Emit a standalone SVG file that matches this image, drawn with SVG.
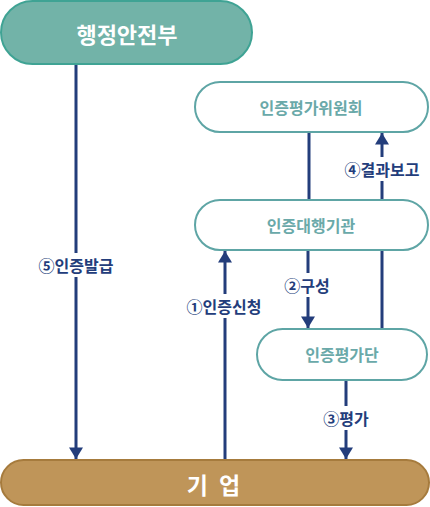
<svg xmlns="http://www.w3.org/2000/svg" width="430" height="507" viewBox="0 0 430 507">
<style>
.node{fill:#fff;stroke:#5ea5a5;stroke-width:2}
.nt{font-family:"Noto Sans CJK KR","Noto Sans",sans-serif;font-weight:bold;font-size:16px;fill:#6aa9a9;text-anchor:middle;dominant-baseline:central}
.ln{stroke:#233d7b;stroke-width:3;fill:none}
.lbl{font-family:"Noto Sans CJK KR","Noto Sans",sans-serif;font-weight:bold;font-size:16px;fill:#233d7b;text-anchor:middle;dominant-baseline:central}
.bg{fill:#fff}
</style>
<defs>
<marker id="ah" markerWidth="17" markerHeight="14" refX="14" refY="8.5" orient="auto" markerUnits="userSpaceOnUse" viewBox="0 0 14 17">
<path d="M0,0 L14,8.5 L0,17 Z" fill="#233d7b"/>
</marker>
</defs>
<g id="connectors">
<line class="ln" x1="76" y1="64" x2="76" y2="459" marker-end="url(#ah)"/>
<line class="ln" x1="225" y1="460" x2="225" y2="251" marker-end="url(#ah)"/>
<line class="ln" x1="308" y1="250" x2="308" y2="328" marker-end="url(#ah)"/>
<line class="ln" x1="382" y1="250" x2="382" y2="329"/>
<line class="ln" x1="346" y1="380" x2="346" y2="459" marker-end="url(#ah)"/>
<line class="ln" x1="309" y1="132" x2="309" y2="200"/>
<line class="ln" x1="382" y1="200" x2="382" y2="133" marker-end="url(#ah)"/>
<rect class="bg" x="32" y="253" width="88" height="24"/>
<text class="lbl" x="76" y="265">⑤인증발급</text>
<rect class="bg" x="180" y="294" width="88" height="24"/>
<text class="lbl" x="224" y="306">①인증신청</text>
<rect class="bg" x="280" y="273" width="56" height="24"/>
<text class="lbl" x="307" y="285">②구성</text>
<rect class="bg" x="318" y="406" width="56" height="24"/>
<text class="lbl" x="346" y="418">③평가</text>
<rect class="bg" x="338" y="157" width="88" height="24"/>
<text class="lbl" x="382" y="169">④결과보고</text>
</g>
<g id="n-mois">
<rect x="1" y="1" width="251" height="63" rx="31.5" fill="#72b3a8" stroke="#3fa394" stroke-width="2"/>
<text x="127" y="33" font-family="'Noto Sans CJK KR','Noto Sans',sans-serif" font-weight="bold" font-size="22" fill="#fff" text-anchor="middle" dominant-baseline="central">행정안전부</text>
</g>
<g id="n-committee">
<rect class="node" x="195" y="82" width="233" height="50" rx="25"/>
<text class="nt" x="311" y="107">인증평가위원회</text>
</g>
<g id="n-agency">
<rect class="node" x="195" y="200" width="233" height="50" rx="25"/>
<text class="nt" x="311" y="225">인증대행기관</text>
</g>
<g id="n-team">
<rect class="node" x="257" y="329" width="170" height="51" rx="25.5"/>
<text class="nt" x="342" y="354">인증평가단</text>
</g>
<g id="n-company">
<rect x="1" y="460" width="428" height="45" rx="22.5" fill="#bf9559" stroke="#a67b3d" stroke-width="2"/>
<text x="215" y="484" font-family="'Noto Sans CJK KR','Noto Sans',sans-serif" font-weight="bold" font-size="23" fill="#fff" text-anchor="middle" dominant-baseline="central" letter-spacing="3">기 업</text>
</g>
</svg>
